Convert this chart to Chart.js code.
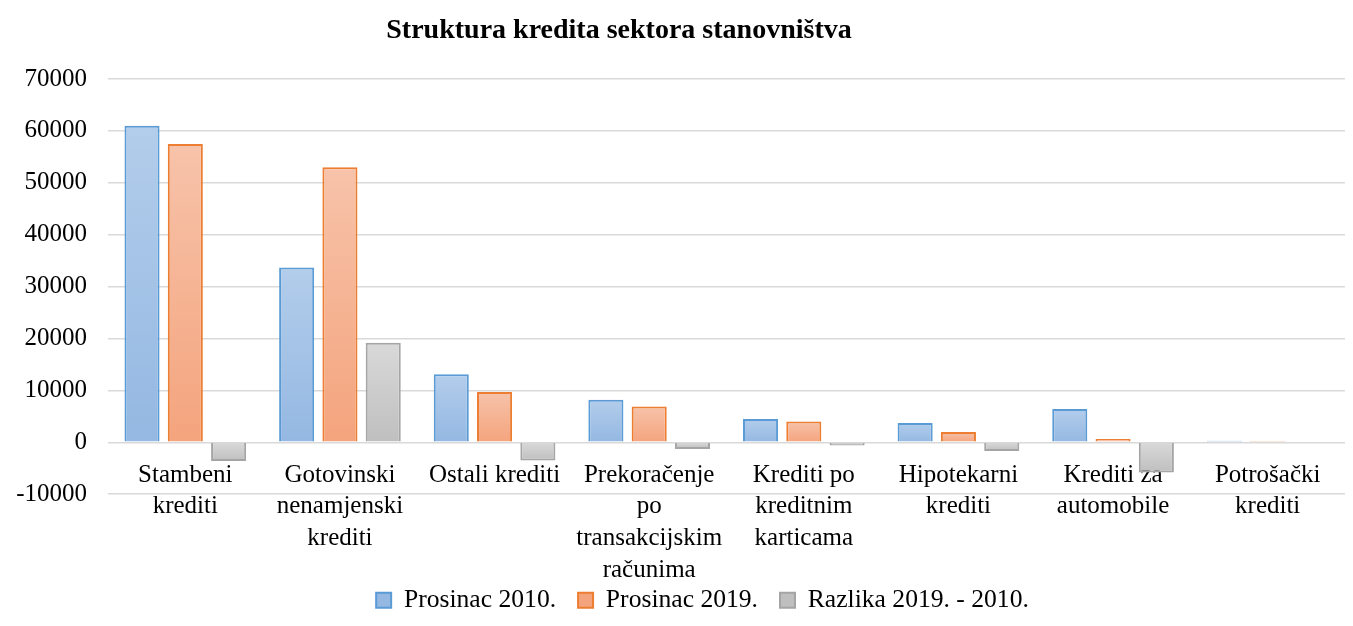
<!DOCTYPE html>
<html>
<head>
<meta charset="utf-8">
<script src="https://cdn.jsdelivr.net/npm/chart.js@4/dist/chart.umd.min.js"></script>
<style>
  html, body { margin: 0; padding: 0; background: #fff; }
  #wrap { width: 1353px; height: 626px; position: relative; }
</style>
</head>
<body>
<div id="wrap"><canvas id="bar-chart"></canvas></div>
<script>
const categories = [
  ['Stambeni', 'krediti'],
  ['Gotovinski', 'nenamjenski', 'krediti'],
  ['Ostali krediti'],
  ['Prekoračenje', 'po', 'transakcijskim', 'računima'],
  ['Krediti po', 'kreditnim', 'karticama'],
  ['Hipotekarni', 'krediti'],
  ['Krediti za', 'automobile'],
  ['Potrošački', 'krediti'],
];
const seriesNames = ['Prosinac 2010.', 'Prosinac 2019.', 'Razlika 2019. - 2010.'];
const prosinac2010 = [61000, 33700, 13100, 8200, 4500, 3700, 6400, 300];
const prosinac2019 = [57500, 53000, 9700, 6900, 4000, 2000, 650, 250];
const razlika = [-3600, 19200, -3500, -1300, -600, -1700, -5800, -150];
const yTicks = [-10000, 0, 10000, 20000, 30000, 40000, 50000, 60000, 70000];

const titleText = 'Struktura kredita sektora stanovništva';
const serif = "'Liberation Serif', 'Times New Roman', serif";

// light top -> darker bottom, like the office gradient fill
const palette = [
  { top: '#b3cdeb', bottom: '#94b8e2', border: '#5b9bd5' },
  { top: '#f7c3aa', bottom: '#f4a47d', border: '#ed7d31' },
  { top: '#d9d9d9', bottom: '#bfbfbf', border: '#a5a5a5' },
];

function barGradient(colors) {
  return (ctx) => {
    const chart = ctx.chart;
    const y = chart.scales.y;
    if (!chart.chartArea || !y || ctx.raw === undefined) return colors.bottom;
    const p = y.getPixelForValue(ctx.raw);
    const b = y.getPixelForValue(0);
    const top = Math.min(p, b);
    const bottom = Math.max(p, b) + 0.01;
    const g = chart.ctx.createLinearGradient(0, top, 0, bottom);
    g.addColorStop(0, colors.top);
    g.addColorStop(1, colors.bottom);
    return g;
  };
}

const seriesData = [prosinac2010, prosinac2019, razlika];

const chartData = {
  labels: categories,
  datasets: seriesData.map((data, i) => ({
    label: seriesNames[i],
    data,
    backgroundColor: barGradient(palette[i]),
    borderColor: palette[i].border,
    borderWidth: 2,
    categoryPercentage: 0.84,
    barPercentage: 0.81,
  })),
};

// title sits a bit left of centre in the original
const titlePlugin = {
  id: 'offsetTitle',
  afterLayout(chart) {
    // legend in the original is pushed a little right of the page centre
    chart.legend.left += 25;
    chart.legend.right += 25;
  },
  afterDraw(chart) {
    const c = chart.ctx;
    c.save();
    c.font = 'bold 28px ' + serif;
    c.fillStyle = '#000';
    c.textAlign = 'center';
    c.textBaseline = 'alphabetic';
    c.fillText(titleText, 619, 38);
    c.restore();
  },
};

const myChart = new Chart(document.getElementById('bar-chart'), {
  type: 'bar',
  data: chartData,
  plugins: [titlePlugin],
  options: {
    responsive: true,
    maintainAspectRatio: false,
    animation: false,
    layout: {
      padding: { top: 79, left: 10, right: 8, bottom: 3 },
    },
    plugins: {
      title: { display: false },
      tooltip: { enabled: false },
      legend: {
        position: 'bottom',
        title: {
          display: true,
          text: '',
          font: { size: 1 },
          padding: { top: 0, bottom: 70 },
        },
        labels: {
          color: '#000',
          boxWidth: 15,
          boxHeight: 15,
          padding: 22,
          font: { family: serif, size: 25.6 },
        },
      },
    },
    scales: {
      x: {
        position: { y: 0 },
        grid: { display: false, drawTicks: false },
        border: { display: false },
        afterFit(scale) {
          scale.paddingLeft = 0;
          scale.paddingRight = 0;
        },
        ticks: {
          color: '#000',
          padding: 17,
          maxRotation: 0,
          autoSkip: false,
          font: { family: serif, size: 25, lineHeight: 1.27 },
        },
      },
      y: {
        min: yTicks[0],
        max: yTicks[yTicks.length - 1],
        afterBuildTicks(axis) {
          axis.ticks = yTicks.map((v) => ({ value: v }));
        },
        afterFit(axis) {
          axis.width = 98;
        },
        grid: { color: '#d9d9d9', lineWidth: 1.5, drawTicks: false },
        border: { display: false },
        ticks: {
          color: '#000',
          padding: 21,
          font: { family: serif, size: 25 },
          callback: (v) => String(v),
        },
      },
    },
  },
});
</script>
</body>
</html>
